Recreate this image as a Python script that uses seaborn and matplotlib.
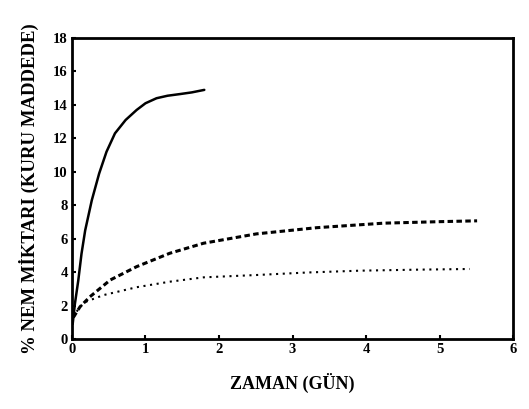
import numpy as np
import pandas as pd
import seaborn as sns
import matplotlib.pyplot as plt

# values
solid_x = [0.01, 0.04, 0.086, 0.13, 0.18, 0.27, 0.37, 0.47, 0.585, 0.73, 0.88, 1.0, 1.15, 1.3, 1.47, 1.63, 1.8]
solid_y = [0.9, 2.1, 3.5, 5.1, 6.5, 8.3, 9.9, 11.2, 12.3, 13.1, 13.7, 14.1, 14.4, 14.55, 14.65, 14.75, 14.9]

dashed_x = [0.02, 0.11, 0.245, 0.52, 0.88, 1.33, 1.79, 2.51, 3.33, 4.24, 5.0, 5.51]
dashed_y = [1.3, 1.93, 2.53, 3.53, 4.33, 5.13, 5.73, 6.29, 6.66, 6.93, 7.02, 7.07]

dotted_x = [0.02, 0.1, 0.2, 0.43, 0.88, 1.33, 1.79, 2.51, 3.2, 3.92, 4.7, 5.41]
dotted_y = [1.3, 1.9, 2.25, 2.63, 3.1, 3.43, 3.69, 3.83, 3.98, 4.09, 4.15, 4.19]

x_ticks = [0, 1, 2, 3, 4, 5, 6]
y_ticks = [0, 2, 4, 6, 8, 10, 12, 14, 16, 18]

sns.set_style("ticks")
plt.rcParams['font.family'] = ['Liberation Serif', 'DejaVu Serif']
plt.rcParams['text.color'] = 'black'
plt.rcParams['axes.labelcolor'] = 'black'
plt.rcParams['xtick.color'] = 'black'
plt.rcParams['ytick.color'] = 'black'

fig = plt.figure(figsize=(5.29, 4.09), dpi=100)
ax = fig.add_axes([0.136, 0.171, 0.834, 0.736])

df_s = pd.DataFrame({'x': solid_x, 'y': solid_y})
df_d = pd.DataFrame({'x': dashed_x, 'y': dashed_y})
df_o = pd.DataFrame({'x': dotted_x, 'y': dotted_y})

sns.lineplot(data=df_s, x='x', y='y', ax=ax, color='black', linewidth=1.8, sort=False, estimator=None)
sns.lineplot(data=df_d, x='x', y='y', ax=ax, color='black', linewidth=2.2, sort=False, estimator=None,
             linestyle=(0, (1.8, 1.1)))
sns.lineplot(data=df_o, x='x', y='y', ax=ax, color='black', linewidth=1.5, sort=False, estimator=None,
             linestyle=(0, (1.0, 2.2)))

ax.set_xlim(0, 6)
ax.set_ylim(0, 18)
ax.set_xticks(x_ticks)
ax.set_yticks(y_ticks)
ax.tick_params(direction='in', length=3, width=1.5, labelsize=10.5, pad=3)
for lab in ax.get_xticklabels() + ax.get_yticklabels():
    lab.set_fontweight('bold')
for sp in ax.spines.values():
    sp.set_linewidth(2)
    sp.set_color('black')

ax.set_xlabel('ZAMAN (GÜN)', fontsize=13, fontweight='bold', labelpad=12)
ax.set_ylabel('% NEM MİKTARI (KURU MADDEDE)', fontsize=13.5, fontweight='bold', labelpad=10)

fig.savefig('out.png', dpi=100)
